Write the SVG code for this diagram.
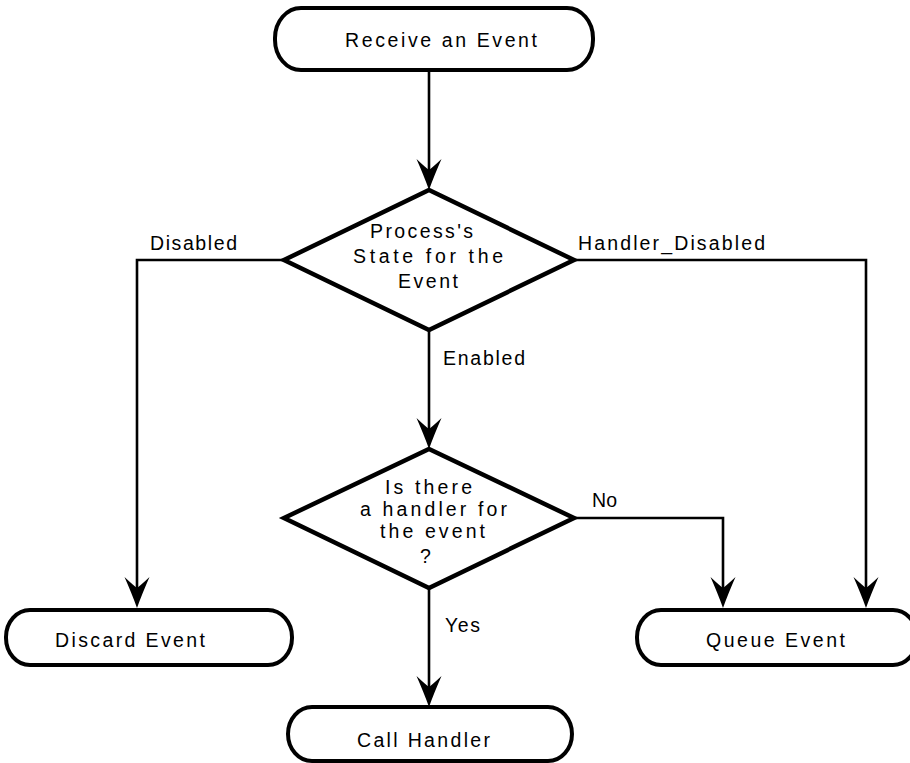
<svg xmlns="http://www.w3.org/2000/svg" width="910" height="763" viewBox="0 0 910 763">
  <style>
    .term { fill: #fff; stroke: #000; stroke-width: 4; }
    .dec { fill: #fff; stroke: #000; stroke-width: 4.5; stroke-linejoin: miter; }
    .conn { fill: none; stroke: #000; stroke-width: 2.6; }
    text { font-family: "Liberation Sans", "DejaVu Sans", sans-serif; font-size: 19.5px; fill: #000; }
  </style>
  <defs>
    <marker id="arrow" viewBox="-33 -14 34 28" markerUnits="userSpaceOnUse" markerWidth="34" markerHeight="28" refX="-10" refY="0" orient="auto" overflow="visible">
      <path d="M0,0 Q-14,-5 -31,-12.5 Q-23,-4 -20,0 Q-23,4 -31,12.5 Q-14,5 0,0 Z" fill="#000"/>
    </marker>
  </defs>

  <rect width="910" height="763" fill="#fff"/>

  <!-- connectors -->
  <g id="connectors">
    <path class="conn" d="M429,70 V180" marker-end="url(#arrow)"/>
    <path class="conn" d="M284,260 H137 V598" marker-end="url(#arrow)"/>
    <path class="conn" d="M574,260 H866 V598" marker-end="url(#arrow)"/>
    <path class="conn" d="M429,330 V439" marker-end="url(#arrow)"/>
    <path class="conn" d="M574,518 H723 V598" marker-end="url(#arrow)"/>
    <path class="conn" d="M429,588 V697" marker-end="url(#arrow)"/>
    <text x="150" y="250" textLength="87">Disabled</text>
    <text x="578" y="250" textLength="187">Handler_Disabled</text>
    <text x="443" y="365" textLength="82">Enabled</text>
    <text x="592" y="507" textLength="25">No</text>
    <text x="445" y="632" textLength="35">Yes</text>
  </g>

  <g id="receive">
    <rect class="term" x="275" y="8" width="318" height="62" rx="26" ry="30"/>
    <text x="345" y="47" textLength="192">Receive an Event</text>
  </g>

  <g id="state">
    <polygon class="dec" points="429,190 574,260 429,330 284,260"/>
    <text x="370" y="238" textLength="103">Process's</text>
    <text x="353" y="263" textLength="150">State for the</text>
    <text x="398" y="288" textLength="60">Event</text>
  </g>

  <g id="has-handler">
    <polygon class="dec" points="429,449 574,518 429,588 284,518"/>
    <text x="385" y="494" textLength="87">Is there</text>
    <text x="360" y="516" textLength="147">a handler for</text>
    <text x="380" y="538" textLength="105">the event</text>
    <text x="420" y="563">?</text>
  </g>

  <g id="discard">
    <rect class="term" x="6" y="610" width="286" height="55" rx="24" ry="27"/>
    <text x="55" y="647" textLength="150">Discard Event</text>
  </g>

  <g id="queue">
    <rect class="term" x="637" y="610" width="280" height="55" rx="24" ry="27"/>
    <text x="706" y="647" textLength="139">Queue Event</text>
  </g>

  <g id="call">
    <rect class="term" x="288" y="707" width="284" height="54" rx="24" ry="27"/>
    <text x="357" y="747" textLength="133">Call Handler</text>
  </g>
</svg>
